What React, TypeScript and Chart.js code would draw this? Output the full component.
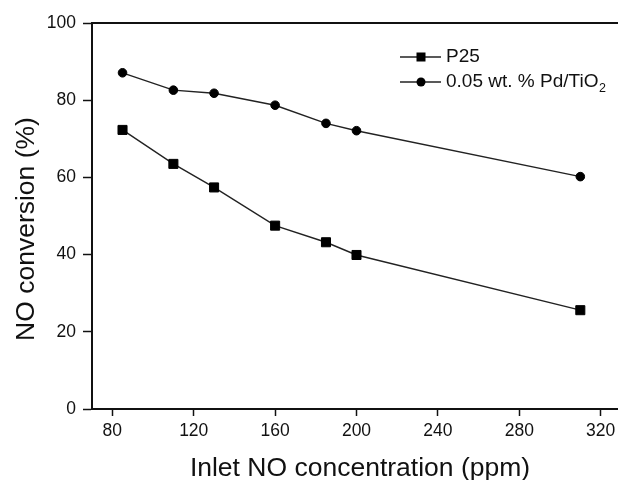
import React, { useEffect, useRef } from "react";
import { Chart, registerables } from "chart.js";

Chart.register(...registerables);

// ---- data ----
const inletNO = [85, 110, 130, 160, 185, 200, 310];
const p25Conversion = [72.3, 63.5, 57.4, 47.5, 43.2, 39.9, 25.6];
const pdTiO2Conversion = [87.1, 82.6, 81.8, 78.7, 74.0, 72.1, 60.2];
const xTickValues = [80, 120, 160, 200, 240, 280, 320];
const yTickValues = [0, 20, 40, 60, 80, 100];
const seriesNames = ["P25", "0.05 wt. % Pd/TiO"];
const seriesSubscripts = ["", "2"];
const xTitle = "Inlet NO concentration (ppm)";
const yTitle = "NO conversion (%)";

const FONT = '"Liberation Sans", Arial, Helvetica, sans-serif';
const INK = "#111";

const overlayPlugin = {
  id: "overlay",
  afterDraw(chart: any) {
    const { ctx, chartArea } = chart;
    ctx.save();
    // frame top/right
    ctx.strokeStyle = INK;
    ctx.lineWidth = 2;
    ctx.beginPath();
    ctx.moveTo(chartArea.left, chartArea.top);
    ctx.lineTo(chartArea.right, chartArea.top);
    ctx.lineTo(chartArea.right, chartArea.bottom);
    ctx.stroke();

    // axis titles
    ctx.fillStyle = INK;
    ctx.font = `26.5px ${FONT}`;
    ctx.textAlign = "center";
    ctx.textBaseline = "alphabetic";
    ctx.fillText(xTitle, 360, 476);
    ctx.save();
    ctx.translate(34, 229);
    ctx.rotate(-Math.PI / 2);
    ctx.fillText(yTitle, 0, 0);
    ctx.restore();

    // legend
    const styles = ["rect", "circle"];
    for (let i = 0; i < seriesNames.length; i++) {
      const y = 57 + i * 25;
      ctx.strokeStyle = "#222";
      ctx.lineWidth = 1.4;
      ctx.beginPath();
      ctx.moveTo(400, y);
      ctx.lineTo(441, y);
      ctx.stroke();
      ctx.fillStyle = "#000";
      if (styles[i] === "rect") {
        ctx.fillRect(421 - 4.5, y - 4.5, 9, 9);
      } else {
        ctx.beginPath();
        ctx.arc(421, y, 4.5, 0, Math.PI * 2);
        ctx.fill();
      }
      ctx.fillStyle = INK;
      ctx.font = `19px ${FONT}`;
      ctx.textAlign = "left";
      ctx.textBaseline = "middle";
      ctx.fillText(seriesNames[i], 446, y);
      if (seriesSubscripts[i]) {
        const w = ctx.measureText(seriesNames[i]).width;
        ctx.font = `12.5px ${FONT}`;
        ctx.fillText(seriesSubscripts[i], 446 + w + 0.5, y + 7);
      }
    }
    ctx.restore();
  },
};

export default function App() {
  const ref = useRef<HTMLCanvasElement | null>(null);

  useEffect(() => {
    if (!ref.current) return;
    const chart = new Chart(ref.current, {
      type: "scatter",
      data: {
        datasets: [
          {
            label: seriesNames[0],
            data: inletNO.map((x, i) => ({ x, y: p25Conversion[i] })),
            showLine: true,
            borderColor: "#222",
            borderWidth: 1.4,
            pointStyle: "rect",
            pointRadius: 6.4,
            pointBorderWidth: 1,
            pointBackgroundColor: "#000",
            pointBorderColor: "#000",
          },
          {
            label: seriesNames[1] + seriesSubscripts[1],
            data: inletNO.map((x, i) => ({ x, y: pdTiO2Conversion[i] })),
            showLine: true,
            borderColor: "#222",
            borderWidth: 1.4,
            pointStyle: "circle",
            pointRadius: 4.3,
            pointBorderWidth: 1,
            pointBackgroundColor: "#000",
            pointBorderColor: "#000",
          },
        ],
      },
      options: {
        responsive: false,
        animation: false,
        devicePixelRatio: 1,
        layout: { padding: { top: 23, right: 19, bottom: 0, left: 0 } },
        plugins: {
          legend: { display: false },
          tooltip: { enabled: false },
        },
        scales: {
          x: {
            type: "linear",
            position: "bottom",
            min: 70,
            max: 330,
            afterBuildTicks: (s: any) => {
              s.ticks = xTickValues.map((v) => ({ value: v }));
            },
            afterFit: (s: any) => {
              s.height = 71;
            },
            ticks: {
              color: INK,
              font: { family: FONT, size: 17.5 },
              padding: 5,
              maxRotation: 0,
              callback: (v: any) => String(v),
            },
            grid: {
              drawOnChartArea: false,
              drawTicks: true,
              tickLength: 7,
              tickColor: INK,
              tickWidth: 1.5,
            },
            border: { display: true, color: INK, width: 2 },
          },
          y: {
            type: "linear",
            position: "left",
            min: 0,
            max: 100,
            afterBuildTicks: (s: any) => {
              s.ticks = yTickValues.map((v) => ({ value: v }));
            },
            afterFit: (s: any) => {
              s.width = 92;
            },
            ticks: {
              color: INK,
              font: { family: FONT, size: 17.5 },
              padding: 7,
              callback: (v: any) => String(v),
            },
            grid: {
              drawOnChartArea: false,
              drawTicks: true,
              tickLength: 9,
              tickColor: INK,
              tickWidth: 1.5,
            },
            border: { display: true, color: INK, width: 2 },
          },
        },
      },
      plugins: [overlayPlugin],
    });
    return () => chart.destroy();
  }, []);

  return (
    <div
      style={{
        position: "fixed",
        left: 0,
        top: 0,
        width: 618,
        height: 480,
        overflow: "hidden",
        background: "#fff",
      }}
    >
      <canvas
        ref={ref}
        width={640}
        height={480}
        style={{ display: "block", width: 640, height: 480 }}
      />
    </div>
  );
}
